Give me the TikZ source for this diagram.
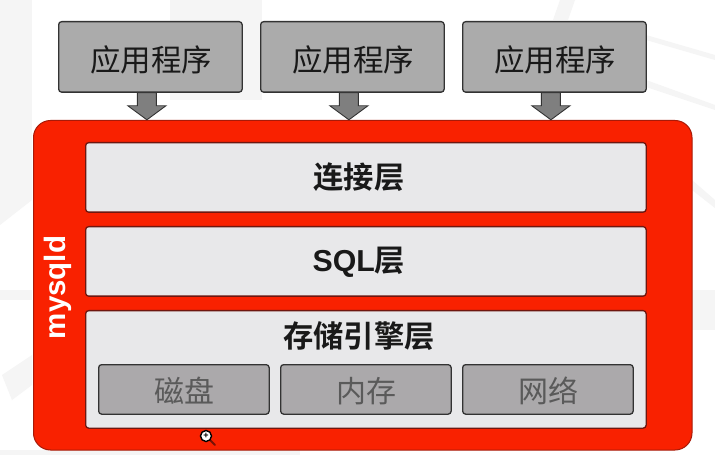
\documentclass[tikz,border=0pt]{standalone}
\usepackage{fontspec}
\setmainfont{Liberation Sans}
\newfontfamily\cjk{Noto Sans CJK SC}
\newfontfamily\cjkb{Noto Sans CJK SC Bold}
\newfontfamily\latb{Liberation Sans Bold}
\definecolor{appgray}{HTML}{ABABAB}
\definecolor{arrowgray}{HTML}{7F7F7F}
\definecolor{edgegray}{HTML}{333333}
\definecolor{redfill}{HTML}{F92100}
\definecolor{rededge}{HTML}{A81A08}
\definecolor{layerfill}{HTML}{E8E8EA}
\definecolor{layeredge}{HTML}{6E1710}
\definecolor{innerfill}{HTML}{ABA9AB}
\definecolor{innertext}{HTML}{5A5A5A}
\definecolor{bgstrip}{HTML}{F5F5F5}
\tikzset{
  box/.style={draw, rounded corners=3pt, inner sep=0pt, anchor=north west},
  appbox/.style={box, fill=appgray, draw=edgegray, line width=1.3pt, minimum width=183.5pt, minimum height=70.5pt},
  applabel/.style={font=\cjk\fontsize{30.5}{30.5}\selectfont, text=black!90},
  layerbox/.style={box, fill=layerfill, draw=layeredge, line width=1.3pt, minimum width=560.5pt, minimum height=69.5pt},
  layerlabel/.style={font=\cjkb\fontsize{30.3}{30.3}\selectfont, text=black!90},
  innerbox/.style={box, fill=innerfill, draw=edgegray, line width=1.3pt, minimum width=170.5pt, minimum height=49.5pt},
  innerlabel/.style={font=\cjk\fontsize{30}{30}\selectfont, text=innertext},
  blockarrow/.style={fill=arrowgray, draw=edgegray, line width=0.9pt, line join=miter},
  strip/.style={fill=bgstrip, draw=none}
}
\begin{document}
\begin{tikzpicture}[x=1pt,y=-1pt]
\useasboundingbox (0,0) rectangle (715,462);
% faint background
\fill[white] (0,0) rectangle (715,462);
\fill[strip] (0,0) rectangle (32,170);
\fill[strip] (170,0) rectangle (262,100);
\fill[strip] (0,170) -- (32,150) -- (32,200) -- (0,225) -- cycle;
\fill[strip] (0,290) rectangle (32,300);
\fill[strip] (2,375) -- (32,355) -- (32,385) -- (12,400) -- cycle;
\fill[strip] (646,35) -- (715,55) -- (715,60) -- (646,40) -- cycle;
\fill[strip] (646,80) -- (715,105) -- (715,110) -- (646,87) -- cycle;
\fill[strip] (692,290) rectangle (715,330);
\fill[strip] (692,180) -- (715,200) -- (715,208) -- (692,190) -- cycle;
\fill[strip] (560,0) -- (575,0) -- (568,20) -- (553,20) -- cycle;
\fill[strip] (0,450) rectangle (300,455);
% mysqld container
\node[box, fill=redfill, draw=rededge, line width=1pt, rounded corners=17pt, minimum width=658.5pt, minimum height=329.5pt] (mysqld) at (33,120) {};
\node[rotate=90, text=white, font=\latb\fontsize{29.5}{29.5}\selectfont] (mysqldlabel) at (58,287.5) {mysqld};
% applications
\node[appbox] (a1) at (58,21) {};
\node[appbox] (a2) at (260,21) {};
\node[appbox] (a3) at (462,21) {};
\node[applabel] (t1) at (151,60) {应用程序};
\node[applabel] (t2) at (353,60) {应用程序};
\node[applabel] (t3) at (555,60) {应用程序};
% block arrows
\foreach \n in {a1,a2,a3}{
  \draw[blockarrow] ([xshift=-13pt]\n.south) -- ++(0,13) -- ++(-9.5,0) -- ++(19,14) -- ++(19,-14) -- ++(-9.5,0) -- ++(0,-13) -- cycle;
}
% layers
\node[layerbox] (l1) at (85,142) {};
\node[layerbox] (l2) at (85,226) {};
\node[box, fill=layerfill, draw=layeredge, line width=1.3pt, minimum width=560.5pt, minimum height=117.5pt] (l3) at (85,310) {};
\node[layerlabel] (l1label) at (359,177) {连接层};
\node[layerlabel] (l2label) at (359,262.5) {{\latb SQL}层};
\node[layerlabel] (l3label) at (359,336) {存储引擎层};
% storage parts
\node[innerbox] (i1) at (98,364) {};
\node[innerbox] (i2) at (280,364) {};
\node[innerbox] (i3) at (462,364) {};
\node[innerlabel] (i1label) at (184,391) {磁盘};
\node[innerlabel] (i2label) at (366,391) {内存};
\node[innerlabel] (i3label) at (548,391) {网络};
% magnifier cursor
\draw[line width=2pt, draw=rededge!70!black, line cap=round] (210,440) -- (215,445);
\node[circle, fill=white, draw=black, line width=1.4pt, minimum size=11pt, inner sep=0pt, font=\bfseries\fontsize{9}{9}\selectfont] (cursor) at (206,436) {+};
\end{tikzpicture}
\end{document}
